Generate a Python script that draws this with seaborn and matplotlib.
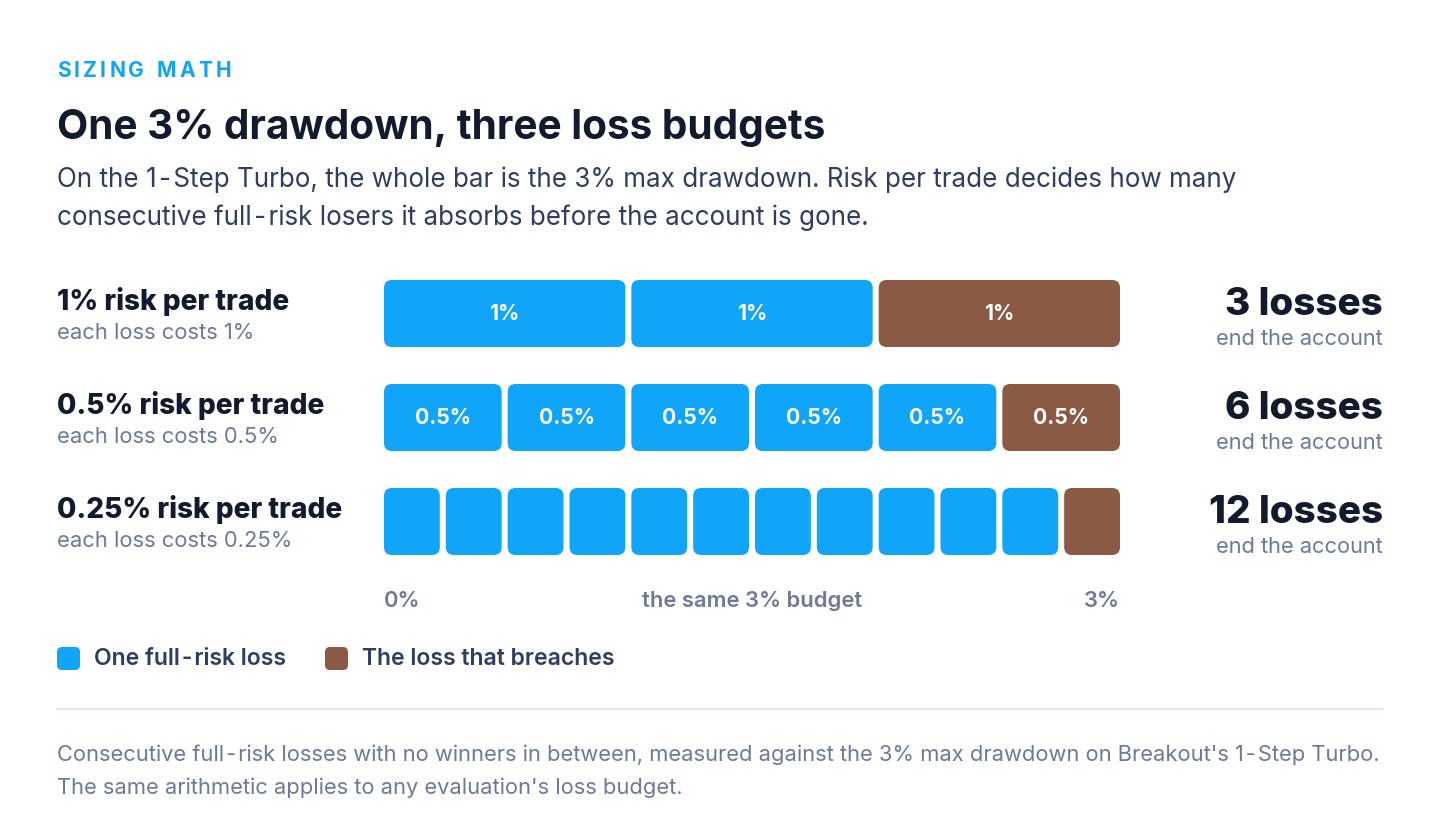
import matplotlib
matplotlib.use("Agg")
import matplotlib.pyplot as plt
from matplotlib.patches import FancyBboxPatch
from matplotlib.lines import Line2D
import seaborn as sns

# --- data ---
budget = 3.0
risk_pct = [1.0, 0.5, 0.25]
loss_counts = [3, 6, 12]
row_titles = ["1% risk per trade", "0.5% risk per trade", "0.25% risk per trade"]
row_subs = ["each loss costs 1%", "each loss costs 0.5%", "each loss costs 0.25%"]
seg_labels = ["1%", "0.5%", ""]
result_titles = ["3 losses", "6 losses", "12 losses"]
result_sub = "end the account"
axis_labels = ["0%", "the same 3% budget", "3%"]
legend_labels = ["One full\u200a-\u200arisk loss", "The loss that breaches"]

BLUE = "#10A5F8"
BROWN = "#8A5A44"
INK = "#121A2D"
NAVY = "#2F3D62"
GRAY = "#6B7A99"
HY = "\u200a-\u200a"  # spaced hyphen as in the reference

sns.set_theme(style="white")
plt.rcParams["font.family"] = ["Inter", "DejaVu Sans"]

W, H = 1440, 838
fig = plt.figure(figsize=(W / 100, H / 100), dpi=100)
fig.patch.set_facecolor("white")


def fx(x):
    return x / W


def fy(y):
    return 1 - y / H


def pt(px):
    return px * 0.72


def spaced(x_px, y_px, s, spacing_px, **kw):
    # draw text char by char to fake letter-spacing
    r = fig.canvas.get_renderer()
    x = x_px
    for ch in s:
        if ch == " ":
            x += kw["fontsize"] / 0.72 * 0.28 + spacing_px
            continue
        t = fig.text(fx(x), fy(y_px), ch, va="baseline", ha="left", **kw)
        x += t.get_window_extent(r).width + spacing_px


# --- header ---
spaced(57, 77, "SIZING MATH", 3.2, fontsize=pt(21), color=BLUE, fontweight="bold")
fig.text(fx(57), fy(139), "One 3% drawdown, three loss budgets", fontsize=pt(40.5),
         fontweight="bold", color=INK, va="baseline")
fig.text(fx(57), fy(187), f"On the 1{HY}Step Turbo, the whole bar is the 3% max drawdown. "
         "Risk per trade decides how many", fontsize=pt(26), color=NAVY, va="baseline")
fig.text(fx(57), fy(225), f"consecutive full{HY}risk losers it absorbs before the account is gone.",
         fontsize=pt(26), color=NAVY, va="baseline")

# --- bars ---
left_px, right_px = 384, 1120
row_step = 104
top_px = 313.5 - row_step / 2
ax = fig.add_axes([fx(left_px), fy(top_px + 3 * row_step),
                   (right_px - left_px) / W, 3 * row_step / H])
ax.set_xlim(0, budget)
ax.set_ylim(len(risk_pct) - 0.5, -0.5)
ax.axis("off")

x_per_px = budget / (right_px - left_px)
y_per_px = 1 / row_step
gap = 6 * x_per_px
bar_h = 67 * y_per_px
radius = 8 * x_per_px
aspect = y_per_px / x_per_px

for i, (r, n) in enumerate(zip(risk_pct, loss_counts)):
    seg_w = r - gap * (n - 1) / n
    lefts = [k * (r + gap / n) for k in range(n)]
    colors = [BLUE] * (n - 1) + [BROWN]
    bars = ax.barh([i] * n, [seg_w] * n, left=lefts, height=bar_h, color=colors)
    for k, b in enumerate(bars):
        b.set_visible(False)
        ax.add_patch(FancyBboxPatch((b.get_x(), b.get_y()), b.get_width(), b.get_height(),
                                    boxstyle=f"round,pad=0,rounding_size={radius}",
                                    mutation_aspect=aspect, fc=colors[k], ec="none"))
        if seg_labels[i]:
            ax.text(b.get_x() + b.get_width() / 2, i + 0.005, seg_labels[i], color="white",
                    fontsize=pt(21), fontweight="bold", ha="center", va="center")

    base = 310 + i * row_step
    fig.text(fx(57), fy(base), row_titles[i], fontsize=pt(28), fontweight="heavy",
             color=INK, va="baseline")
    fig.text(fx(57), fy(base + 29), row_subs[i], fontsize=pt(22), color=GRAY, va="baseline")
    fig.text(fx(1383), fy(base + 5), result_titles[i], fontsize=pt(38.5), fontweight="heavy",
             color=INK, va="baseline", ha="right")
    fig.text(fx(1383), fy(base + 35), result_sub, fontsize=pt(21.8), color=GRAY,
             va="baseline", ha="right")

# --- scale labels ---
for xpx, lab, ha in zip([left_px, (left_px + right_px) / 2, right_px], axis_labels,
                        ["left", "center", "right"]):
    fig.text(fx(xpx), fy(607), lab, fontsize=pt(22), fontweight="semibold", color=GRAY,
             va="baseline", ha=ha)

# --- legend ---
for xpx, lab, col, txpx in zip([57, 325], legend_labels, [BLUE, BROWN], [94, 362]):
    fig.add_artist(FancyBboxPatch((xpx / 100, (H - 670) / 100), 0.23, 0.23,
                                  boxstyle="round,pad=0,rounding_size=0.05",
                                  transform=fig.dpi_scale_trans, fc=col, ec="none"))
    fig.text(fx(txpx), fy(665), lab, fontsize=pt(23), fontweight="semibold", color=NAVY,
             va="baseline")

# --- footer ---
fig.add_artist(Line2D([fx(57), fx(1383)], [fy(709), fy(709)], color="#E2E8F0", lw=1.5))
fig.text(fx(57), fy(761), f"Consecutive full{HY}risk losses with no winners in between, measured "
         f"against the 3% max drawdown on Breakout's 1{HY}Step Turbo.", fontsize=pt(21.9),
         color=GRAY, va="baseline")
fig.text(fx(57), fy(794), "The same arithmetic applies to any evaluation's loss budget.",
         fontsize=pt(21.9), color=GRAY, va="baseline")

fig.savefig("out.png", dpi=100)
